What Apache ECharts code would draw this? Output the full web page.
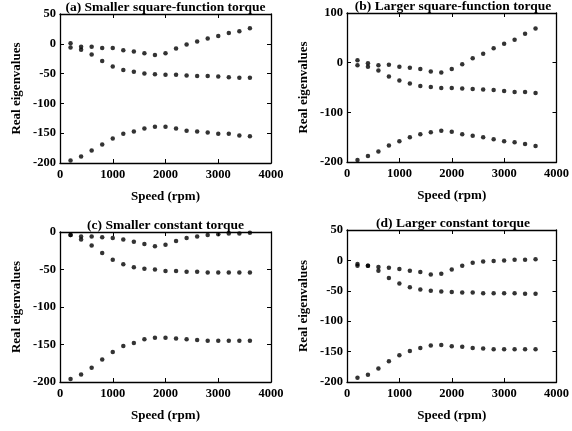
<!DOCTYPE html>
<html><head><meta charset="utf-8">
<script src="https://cdn.jsdelivr.net/npm/echarts@6/dist/echarts.min.js"></script>
<style>html,body{margin:0;padding:0;background:#fff}#c{width:572px;height:431px}</style>
</head><body><div id="c"></div>
<script>
const speeds = [200,400,600,800,1000,1200,1400,1600,1800,2000,2200,2400,2600,2800,3000,3200,3400,3600];
const titles = ['(a) Smaller square-function torque','(b) Larger square-function torque','(c) Smaller constant torque','(d) Larger constant torque'];
const xTicks = [0,1000,2000,3000,4000];
const yRanges = [[-200,50,50],[-200,100,100],[-200,0,50],[-200,50,50]];
// panel (a)
const aUpper = [1,-5,-5,-7,-7,-11,-13,-16,-19,-16,-8,-1,4,9,13,18,21,26];
const aMid   = [-6,-10,-18,-29,-38,-44,-47,-50,-51,-52,-52,-53,-54,-54,-55,-56,-57,-57];
const aLow   = [-196,-189,-179,-169,-159,-151,-147,-142,-139,-139,-142,-146,-147,-149,-151,-151,-154,-155];
// panel (b)
const bUpper = [5,-1,-5,-4,-8,-10,-13,-18,-20,-13,-3,9,18,29,38,46,58,69];
const bMid   = [-5,-8,-16,-28,-36,-42,-47,-49,-51,-51,-52,-53,-54,-55,-57,-59,-59,-61];
const bLow   = [-196,-188,-179,-167,-158,-150,-144,-140,-137,-139,-144,-147,-150,-154,-158,-160,-164,-168];
// panel (c)
const cUpper = [-4,-6,-6,-7,-8,-10,-13,-16,-19,-17,-12,-8,-6,-4,-3,-2,-2,-1];
const cMid   = [-4,-10,-18,-28,-37,-43,-47,-49,-50,-52,-52,-53,-53,-54,-54,-54,-54,-54];
const cLow   = [-196,-190,-181,-170,-160,-152,-148,-143,-141,-141,-142,-143,-144,-145,-145,-145,-145,-145];
// panel (d)
const dUpper = [-6,-9,-11,-12,-14,-17,-19,-23,-22,-15,-9,-4,-2,-1,0,1,1,2];
const dMid   = [-9,-9,-17,-29,-38,-44,-48,-50,-51,-52,-53,-53,-54,-54,-54,-54,-55,-55];
const dLow   = [-193,-188,-178,-166,-156,-149,-144,-140,-139,-141,-142,-144,-145,-146,-146,-146,-146,-146];

const panels = [[aUpper,aMid,aLow],[bUpper,bMid,bLow],[cUpper,cMid,cLow],[dUpper,dMid,dLow]];
const grids = [
  {left:60,top:14,width:211,height:149},
  {left:347,top:13,width:212,height:149},
  {left:60,top:232,width:211,height:150},
  {left:347,top:230,width:212,height:152}
];
const F = 'Liberation Serif, Times New Roman, serif';
const lineS = {show:true,onZero:false,lineStyle:{color:'#000',width:1.3}};
const fmt = v => String(v);
const option = {animation:false,backgroundColor:'#fff',title:[],grid:[],xAxis:[],yAxis:[],series:[]};
grids.forEach((g,i)=>{
  option.grid.push(Object.assign({containLabel:false},g));
  option.title.push({text:titles[i],left:g.left+g.width/2,top:g.top-13,textAlign:'center',padding:0,
    textStyle:{fontFamily:F,fontSize:13.5,fontWeight:'bold',color:'#000'}});
  const xb = {type:'value',gridIndex:i,min:0,max:4000,interval:1000,axisLine:lineS,
    axisTick:{show:true,inside:true,length:4,lineStyle:{color:'#000'}},splitLine:{show:false}};
  option.xAxis.push(Object.assign({},xb,{position:'bottom',name:'Speed (rpm)',nameLocation:'middle',nameGap:27,
    nameTextStyle:{fontFamily:F,fontSize:13,fontWeight:'bold',color:'#000'},
    axisLabel:{fontFamily:F,fontSize:12.5,fontWeight:'bold',color:'#000',margin:5,formatter:fmt,
      showMinLabel:true,showMaxLabel:true,hideOverlap:false}}));
  option.xAxis.push(Object.assign({},xb,{position:'top',axisLabel:{show:false}}));
  const [mn,mx,iv] = yRanges[i];
  const yb = {type:'value',gridIndex:i,min:mn,max:mx,interval:iv,axisLine:lineS,
    axisTick:{show:true,inside:true,length:4,lineStyle:{color:'#000'}},splitLine:{show:false}};
  option.yAxis.push(Object.assign({},yb,{position:'left',name:'Real eigenvalues',nameLocation:'middle',nameGap:37,
    nameTextStyle:{fontFamily:F,fontSize:13,fontWeight:'bold',color:'#000'},
    axisLabel:{fontFamily:F,fontSize:12.5,fontWeight:'bold',color:'#000',margin:4,formatter:fmt,
      showMinLabel:true,showMaxLabel:true,hideOverlap:false}}));
  option.yAxis.push(Object.assign({},yb,{position:'right',axisLabel:{show:false}}));
  panels[i].forEach(arr=>{
    option.series.push({type:'scatter',xAxisIndex:2*i,yAxisIndex:2*i,symbol:'circle',symbolSize:4.5,
      itemStyle:{color:'#000'},data:speeds.map((s,k)=>[s,arr[k]])});
  });
});
echarts.init(document.getElementById('c'),null,{renderer:'canvas'}).setOption(option);
</script></body></html>
